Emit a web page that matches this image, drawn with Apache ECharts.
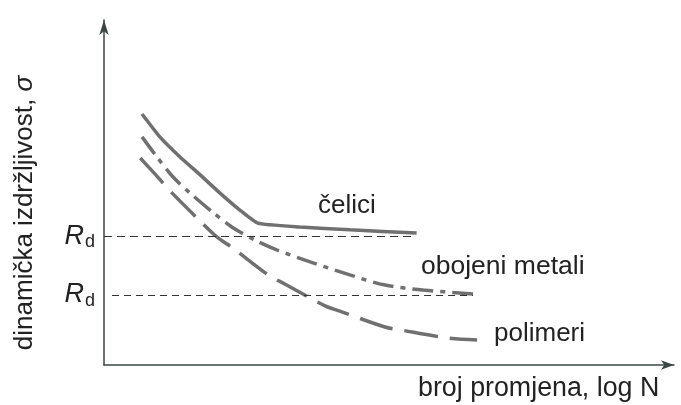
<!DOCTYPE html>
<html>
<head>
<meta charset="utf-8">
<script src="https://cdn.jsdelivr.net/npm/echarts@6/dist/echarts.min.js"></script>
<style>
  html, body { margin: 0; padding: 0; background: #fff; }
  #chart { width: 681px; height: 405px; }
</style>
</head>
<body>
<div id="chart"></div>
<script>
// log N (arbitrary units) vs. sigma (arbitrary units)
const steelX = [0.66, 0.97, 1.32, 1.67, 2.01, 2.36, 2.67, 3.40, 4.27, 5.43]
const steelY = [7.13, 6.48, 5.91, 5.40, 4.89, 4.40, 4.03, 3.92, 3.84, 3.75]

const nonFerrousX = [0.66, 0.92, 1.20, 1.49, 1.88, 2.22, 2.62, 3.00, 3.58, 4.27, 4.88, 5.54, 6.41]
const nonFerrousY = [6.48, 5.91, 5.34, 4.89, 4.35, 3.92, 3.55, 3.27, 2.93, 2.56, 2.27, 2.13, 2.02]

const polymerX = [0.63, 0.90, 1.18, 1.67, 1.96, 2.24, 2.85, 3.14, 3.84, 4.13, 4.88, 5.17, 5.95, 6.48]
const polymerY = [5.88, 5.40, 4.89, 4.09, 3.64, 3.32, 2.56, 2.30, 1.68, 1.51, 1.08, 0.99, 0.77, 0.71]

// endurance limits: [level, startX, endX]
const rdSteel = [3.66, 0, 5.36]
const rdNonFerrous = [1.99, 0.14, 6.41]

const curveNames = ['čelici', 'obojeni metali', 'polimeri']
const xTitle = 'broj promjena, log N'
const yTitle = 'dinamička izdržljivost, '

const zip = (xs, ys) => xs.map((x, i) => [x, ys[i]])

const FONT = 'Liberation Sans, Arial, sans-serif'
const CURVE = '#707070'
const AXIS = '#3b4745'

function rdLine(rd, dist, dash) {
  return [
    {
      coord: [rd[1], rd[0]],
      label: { distance: dist },
      lineStyle: { type: dash },
    },
    { coord: [rd[2], rd[0]] },
  ]
}

const chart = echarts.init(document.getElementById('chart'))

chart.setOption({
  animation: false,
  backgroundColor: '#fff',
  grid: { left: 104, right: 7, top: 20, bottom: 40 },
  xAxis: {
    type: 'value',
    min: 0,
    max: 9.9,
    axisLine: {
      show: true,
      symbol: ['none', 'arrow'],
      symbolSize: [7, 13],
      lineStyle: { color: AXIS, width: 1.5 },
    },
    axisTick: { show: false },
    axisLabel: { show: false },
    splitLine: { show: false },
  },
  yAxis: {
    type: 'value',
    min: 0,
    max: 9.8,
    axisLine: {
      show: true,
      symbol: ['none', 'arrow'],
      symbolSize: [7, 15],
      lineStyle: { color: AXIS, width: 1.5 },
    },
    axisTick: { show: false },
    axisLabel: { show: false },
    splitLine: { show: false },
  },
  series: [
    {
      name: curveNames[0],
      type: 'line',
      data: zip(steelX, steelY),
      symbol: 'none',
      smooth: 0.15,
      lineStyle: { color: CURVE, width: 3.5 },
    },
    {
      name: curveNames[1],
      type: 'line',
      data: zip(nonFerrousX, nonFerrousY),
      symbol: 'none',
      smooth: 0.3,
      lineStyle: { color: CURVE, width: 3.5, type: [21, 7, 5, 7] },
    },
    {
      name: curveNames[2],
      type: 'line',
      data: zip(polymerX, polymerY),
      symbol: 'none',
      smooth: 0.3,
      lineStyle: { color: CURVE, width: 3.5, type: [34, 12] },
    },
    {
      name: 'Rd',
      type: 'line',
      data: [],
      markLine: {
        silent: true,
        symbol: 'none',
        lineStyle: { color: '#333', width: 1 },
        label: {
          position: 'start',
          formatter: '{r|R}{d|d}',
          rich: {
            r: { fontFamily: FONT, fontStyle: 'italic', fontSize: 27, color: '#222' },
            d: { fontFamily: FONT, fontSize: 18, color: '#222', padding: [12, 0, 0, 1] },
          },
        },
        data: [
          rdLine(rdSteel, 9, [8, 5]),
          rdLine(rdNonFerrous, 17, [7, 5]),
        ],
      },
    },
  ],
  graphic: [
    {
      type: 'text',
      x: 318, y: 206,
      style: { text: curveNames[0], font: '26px ' + FONT, fill: '#222', textVerticalAlign: 'middle' },
    },
    {
      type: 'text',
      x: 421, y: 267,
      style: { text: curveNames[1], font: '26.5px ' + FONT, fill: '#222', textVerticalAlign: 'middle' },
    },
    {
      type: 'text',
      x: 494, y: 334,
      style: { text: curveNames[2], font: '26px ' + FONT, fill: '#222', textVerticalAlign: 'middle' },
    },
    {
      type: 'text',
      x: 418, y: 389,
      style: { text: xTitle, font: '26.8px ' + FONT, fill: '#222', textVerticalAlign: 'middle' },
    },
    {
      type: 'text',
      x: 25, y: 213,
      rotation: Math.PI / 2,
      style: {
        text: '{t|' + yTitle + '}{s|σ}',
        rich: {
          t: { font: '26px ' + FONT, fill: '#222' },
          s: { font: 'italic 26px ' + FONT, fill: '#222' },
        },
        align: 'center', verticalAlign: 'middle',
      },
    },
  ],
})
</script>
</body>
</html>
